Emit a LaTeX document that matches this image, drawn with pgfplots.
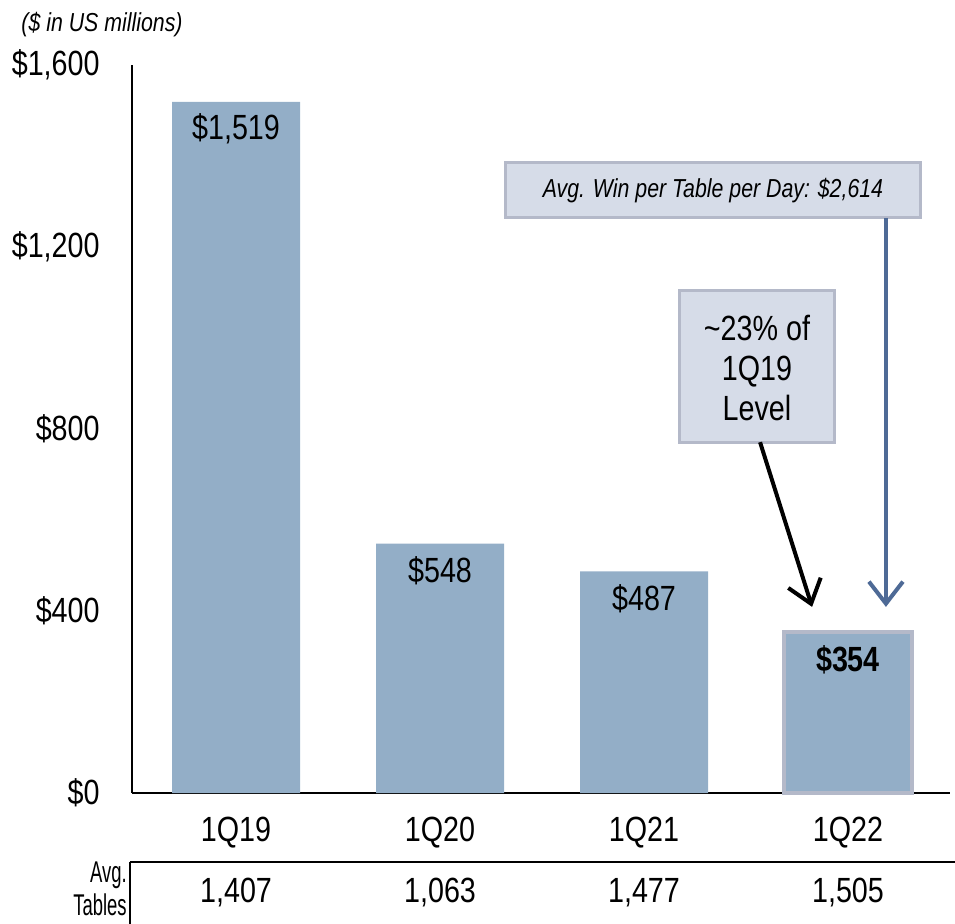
\documentclass[border=0pt]{standalone}
\usepackage{fontspec}
\setmainfont{Liberation Sans}[FakeStretch=0.82]
\usepackage{graphicx}
\usepackage{pgfplots}
\pgfplotsset{compat=1.18}
\usetikzlibrary{arrows.meta}

\definecolor{barblue}{RGB}{147,174,199}
\definecolor{boxfill}{RGB}{214,220,232}
\definecolor{boxedge}{RGB}{180,185,201}
\definecolor{arrowblue}{RGB}{78,106,150}
\newcommand{\lbl}{\fontsize{17.5}{20}\selectfont}
\newcommand{\sml}{\fontsize{13}{15}\selectfont}

\begin{document}
\begin{tikzpicture}
\useasboundingbox (-66pt,-65pt) rectangle (411.5pt,396.5pt);
\begin{axis}[
  at={(0,0)}, anchor=south west,
  scale only axis, width=409pt, height=364pt,
  xmin=-0.51, xmax=3.5, ymin=0, ymax=1600,
  axis x line*=bottom, axis y line*=left,
  axis line style={-, line width=0.75pt, black},
  xtick={0,1,2,3}, xticklabels={1Q19,1Q20,1Q21,1Q22},
  ytick={0,400,800,1200,1600},
  yticklabels={\$0,\$400,\$800,{\$1,200},{\$1,600}},
  major tick length=0pt,
  tick label style={font=\lbl},
  xticklabel style={anchor=center, inner sep=0pt, yshift=-20pt},
  yticklabel style={anchor=east, inner sep=0pt, xshift=-16pt},
  clip=false,
  /pgf/number format/assume math mode=true,
]
% quarterly win, $ millions
\addplot[ybar, bar shift=0pt, bar width=64pt, fill=barblue, draw=none,
  nodes near coords={\$\pgfmathprintnumber{\pgfplotspointmeta}},
  nodes near coords style={font=\lbl, anchor=center, yshift=-13.5pt, black}]
  coordinates {(0,1519) (1,548) (2,487)};
\addplot[ybar, bar shift=0pt, bar width=64pt, fill=barblue, draw=boxedge, line width=2pt,
  nodes near coords={\textbf{\$\pgfmathprintnumber{\pgfplotspointmeta}}},
  nodes near coords style={font=\lbl, anchor=center, yshift=-14pt, black}]
  coordinates {(3,354)};

% callouts
\draw[boxedge, fill=boxfill, line width=1.5pt] (axis cs:1.319,1264) rectangle (axis cs:3.353,1385);
\node[font=\sml\itshape] at (axis cs:2.338,1324.5) {Avg. Win per Table per Day: \$2,614};
\draw[arrowblue, line width=2pt, -{Straight Barb[length=11pt, width=17pt]}]
  (axis cs:3.186,1264) -- (axis cs:3.186,409);

\draw[boxedge, fill=boxfill, line width=1.5pt] (axis cs:2.176,771) rectangle (axis cs:2.936,1105);
\node[font=\lbl, align=center] at (axis cs:2.554,934) {\textasciitilde23\% of\\1Q19\\Level};
\draw[black, line width=2pt, -{Straight Barb[length=11pt, width=17pt]}]
  (axis cs:2.569,771) -- (axis cs:2.824,409);

\node[font=\sml\itshape] at (axis cs:-0.657,1688) {(\$ in US millions)};

% avg tables row
\draw[line width=0.75pt] (axis cs:-0.52,-151.6) -- (axis cs:3.525,-151.6);
\draw[line width=0.75pt] (axis cs:-0.52,-151.6) -- (axis cs:-0.52,-290);
\node[font=\fontsize{15}{17}\selectfont, anchor=east, inner sep=0pt] at (axis cs:-0.534,-180.2) {\scalebox{0.75}[1]{Avg.}};
\node[font=\fontsize{15}{17}\selectfont, anchor=east, inner sep=0pt] at (axis cs:-0.534,-246.2) {\scalebox{0.75}[1]{Tables}};
\node[font=\lbl] at (axis cs:0,-219.8) {1,407};
\node[font=\lbl] at (axis cs:1,-219.8) {1,063};
\node[font=\lbl] at (axis cs:2,-219.8) {1,477};
\node[font=\lbl] at (axis cs:3,-219.8) {1,505};
\end{axis}
\end{tikzpicture}
\end{document}
